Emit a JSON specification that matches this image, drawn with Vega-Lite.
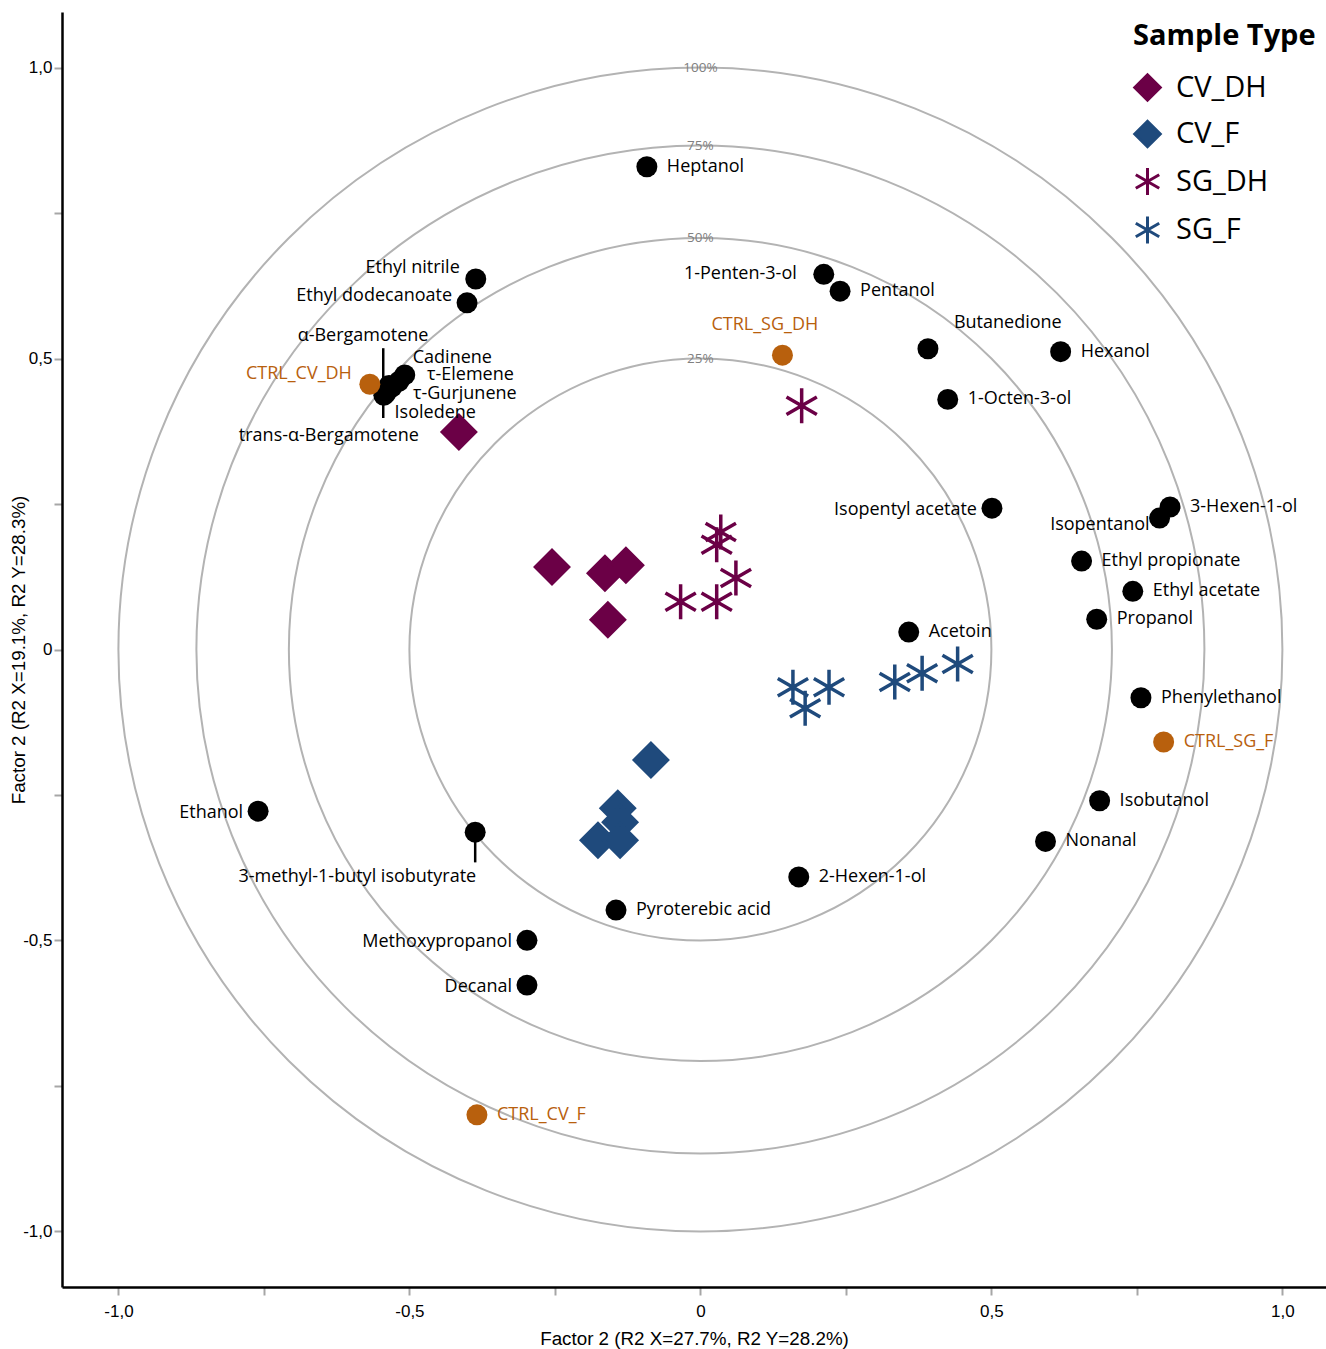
{
  "$schema": "https://vega.github.io/schema/vega-lite/v6.json",
  "width": 1264,
  "height": 1275,
  "autosize": "none",
  "padding": {"left": 62, "top": 12, "right": 0, "bottom": 62},
  "background": "white",
  "config": {
    "view": {"stroke": null},
    "font": "Open Sans",
    "axis": {
      "grid": false,
      "domainColor": "black",
      "domainWidth": 2.5,
      "tickColor": "#a6a6a6",
      "tickWidth": 2,
      "tickSize": 8,
      "labelFont": "Liberation Sans",
      "labelFontSize": 17,
      "labelColor": "black",
      "labelFlush": false,
      "labelOverlap": false,
      "titleFont": "Liberation Sans",
      "titleFontSize": 18.8,
      "titleFontWeight": "normal",
      "titleColor": "black"
    },
    "legend": {
      "orient": "top-right",
      "offset": 10,
      "padding": 0,
      "titleFont": "Open Sans",
      "titleFontSize": 29,
      "titleFontWeight": "bold",
      "titleColor": "black",
      "titleLimit": 500,
      "titlePadding": 22,
      "labelFont": "Open Sans",
      "labelFontSize": 29,
      "labelColor": "black",
      "labelOffset": 14,
      "labelLimit": 300,
      "symbolSize": 650,
      "symbolStrokeWidth": 3,
      "rowPadding": 7.5
    }
  },
  "datasets": {
    "rings": [
      {"label": "25%", "radius": 0.5},
      {"label": "50%", "radius": 0.7071},
      {"label": "75%", "radius": 0.866},
      {"label": "100%", "radius": 1.0}
    ],
    "leaders": [
      {"x": -0.545, "y": 0.518, "y2": 0.398},
      {"x": -0.387, "y": -0.314, "y2": -0.366}
    ],
    "loadings": [
      {"name": "Heptanol", "group": "compound", "x": -0.092, "y": 0.830},
      {"name": "Ethyl nitrile", "group": "compound", "x": -0.386, "y": 0.637},
      {"name": "Ethyl dodecanoate", "group": "compound", "x": -0.401, "y": 0.596},
      {"name": "Cadinene", "group": "compound", "x": -0.508, "y": 0.472},
      {"name": "τ-Elemene", "group": "compound", "x": -0.518, "y": 0.461},
      {"name": "τ-Gurjunene", "group": "compound", "x": -0.530, "y": 0.451},
      {"name": "Isoledene", "group": "compound", "x": -0.541, "y": 0.440},
      {"name": "α-Bergamotene", "group": "compound", "x": -0.535, "y": 0.454},
      {"name": "trans-α-Bergamotene", "group": "compound", "x": -0.544, "y": 0.437},
      {"name": "1-Penten-3-ol", "group": "compound", "x": 0.212, "y": 0.645},
      {"name": "Pentanol", "group": "compound", "x": 0.240, "y": 0.616},
      {"name": "Butanedione", "group": "compound", "x": 0.391, "y": 0.517},
      {"name": "Hexanol", "group": "compound", "x": 0.619, "y": 0.512},
      {"name": "1-Octen-3-ol", "group": "compound", "x": 0.425, "y": 0.430},
      {"name": "Isopentyl acetate", "group": "compound", "x": 0.501, "y": 0.243},
      {"name": "3-Hexen-1-ol", "group": "compound", "x": 0.807, "y": 0.245},
      {"name": "Isopentanol", "group": "compound", "x": 0.789, "y": 0.226},
      {"name": "Ethyl propionate", "group": "compound", "x": 0.655, "y": 0.152},
      {"name": "Ethyl acetate", "group": "compound", "x": 0.743, "y": 0.100},
      {"name": "Propanol", "group": "compound", "x": 0.681, "y": 0.052},
      {"name": "Acetoin", "group": "compound", "x": 0.358, "y": 0.030},
      {"name": "Phenylethanol", "group": "compound", "x": 0.757, "y": -0.083},
      {"name": "Isobutanol", "group": "compound", "x": 0.686, "y": -0.260},
      {"name": "Nonanal", "group": "compound", "x": 0.593, "y": -0.330},
      {"name": "2-Hexen-1-ol", "group": "compound", "x": 0.169, "y": -0.391},
      {"name": "Pyroterebic acid", "group": "compound", "x": -0.145, "y": -0.448},
      {"name": "Ethanol", "group": "compound", "x": -0.760, "y": -0.278},
      {"name": "3-methyl-1-butyl isobutyrate", "group": "compound", "x": -0.387, "y": -0.314},
      {"name": "Methoxypropanol", "group": "compound", "x": -0.298, "y": -0.500},
      {"name": "Decanal", "group": "compound", "x": -0.298, "y": -0.577},
      {"name": "CTRL_CV_DH", "group": "control", "x": -0.568, "y": 0.456},
      {"name": "CTRL_SG_DH", "group": "control", "x": 0.141, "y": 0.506},
      {"name": "CTRL_SG_F", "group": "control", "x": 0.796, "y": -0.159},
      {"name": "CTRL_CV_F", "group": "control", "x": -0.384, "y": -0.800}
    ],
    "samples": [
      {"type": "CV_DH", "x": -0.415, "y": 0.374},
      {"type": "CV_DH", "x": -0.255, "y": 0.142},
      {"type": "CV_DH", "x": -0.164, "y": 0.131},
      {"type": "CV_DH", "x": -0.128, "y": 0.145},
      {"type": "CV_DH", "x": -0.159, "y": 0.051},
      {"type": "CV_F", "x": -0.085, "y": -0.190},
      {"type": "CV_F", "x": -0.142, "y": -0.273},
      {"type": "CV_F", "x": -0.138, "y": -0.297},
      {"type": "CV_F", "x": -0.176, "y": -0.328},
      {"type": "CV_F", "x": -0.138, "y": -0.328},
      {"type": "SG_DH", "x": 0.035, "y": 0.202},
      {"type": "SG_DH", "x": 0.028, "y": 0.180},
      {"type": "SG_DH", "x": 0.061, "y": 0.123},
      {"type": "SG_DH", "x": -0.034, "y": 0.082},
      {"type": "SG_DH", "x": 0.028, "y": 0.082},
      {"type": "SG_DH", "x": 0.174, "y": 0.419},
      {"type": "SG_F", "x": 0.159, "y": -0.065},
      {"type": "SG_F", "x": 0.221, "y": -0.065},
      {"type": "SG_F", "x": 0.180, "y": -0.101},
      {"type": "SG_F", "x": 0.334, "y": -0.056},
      {"type": "SG_F", "x": 0.381, "y": -0.041},
      {"type": "SG_F", "x": 0.442, "y": -0.025}
    ]
  },
  "layer": [
    {
      "description": "Explained-variance circles (radius = sqrt of the share)",
      "data": {"name": "rings"},
      "mark": {"type": "arc", "filled": false, "stroke": "#b3b3b3", "strokeWidth": 2, "theta": 0, "theta2": {"expr": "2*PI"}},
      "encoding": {
        "x": {
          "datum": 0, "type": "quantitative",
          "scale": {"domain": [-1.097, 1.075], "nice": false, "zero": false},
          "axis": {
            "values": [-1, -0.75, -0.5, -0.25, 0, 0.25, 0.5, 0.75, 1],
            "labelExpr": "abs(datum.value * 2 - round(datum.value * 2)) < 0.001 ? (datum.value == 0 ? '0' : replace(replace(format(datum.value, '.1f'), '.', ','), '\u2212', '-')) : ''",
            "labelPadding": 8,
            "title": "Factor 2 (R2 X=27.7%, R2 Y=28.2%)",
            "titleY": 51,
            "titleBaseline": "middle"
          }
        },
        "y": {
          "datum": 0, "type": "quantitative",
          "scale": {"domain": [-1.096, 1.096], "nice": false, "zero": false},
          "axis": {
            "values": [-1, -0.75, -0.5, -0.25, 0, 0.25, 0.5, 0.75, 1],
            "labelExpr": "abs(datum.value * 2 - round(datum.value * 2)) < 0.001 ? (datum.value == 0 ? '0' : replace(replace(format(datum.value, '.1f'), '.', ','), '\u2212', '-')) : ''",
            "labelPadding": 2,
            "title": "Factor 2 (R2 X=19.1%, R2 Y=28.3%)",
            "titleX": -44,
            "titleBaseline": "middle"
          }
        },
        "radius": {"field": "radius", "type": "quantitative", "stack": null, "scale": {"type": "linear", "domain": [0, 1], "range": [0, 582], "zero": true}}
      }
    },
    {
      "data": {"name": "rings"},
      "mark": {"type": "text", "font": "Open Sans", "fontSize": 13.5, "color": "#808080", "baseline": "middle", "align": "center"},
      "encoding": {
        "x": {"datum": 0, "type": "quantitative"},
        "y": {"field": "radius", "type": "quantitative"},
        "text": {"field": "label"}
      }
    },
    {
      "description": "Dashed zero reference lines",
      "mark": {"type": "rule", "color": "#d0263b", "strokeWidth": 2, "strokeDash": [7, 5]},
      "encoding": {"x": {"datum": 0, "type": "quantitative"}}
    },
    {
      "mark": {"type": "rule", "color": "#d0263b", "strokeWidth": 2, "strokeDash": [7, 5]},
      "encoding": {"y": {"datum": 0, "type": "quantitative"}}
    },
    {
      "description": "Top frame line",
      "mark": {"type": "rule", "color": "black", "strokeWidth": 2.5},
      "encoding": {"y": {"datum": 1.096, "type": "quantitative"}}
    },
    {
      "description": "Leader lines for crowded labels",
      "data": {"name": "leaders"},
      "mark": {"type": "rule", "color": "black", "strokeWidth": 2.5},
      "encoding": {
        "x": {"field": "x", "type": "quantitative"},
        "y": {"field": "y", "type": "quantitative"},
        "y2": {"field": "y2"}
      }
    },
    {
      "description": "Variable loadings (black) and control samples (orange)",
      "data": {"name": "loadings"},
      "mark": {"type": "circle", "size": 440, "opacity": 1},
      "encoding": {
        "x": {"field": "x", "type": "quantitative"},
        "y": {"field": "y", "type": "quantitative"},
        "color": {"field": "group", "type": "nominal", "scale": {"domain": ["compound", "control"], "range": ["black", "#b8600d"]}, "legend": null}
      }
    },
    {
      "description": "Sample scores",
      "data": {"name": "samples"},
      "mark": {"type": "point", "filled": true, "size": 1089, "strokeWidth": 3.5, "opacity": 1},
      "encoding": {
        "x": {"field": "x", "type": "quantitative"},
        "y": {"field": "y", "type": "quantitative"},
        "fill": {"field": "type", "type": "nominal", "title": "Sample Type",
          "scale": {"domain": ["CV_DH", "CV_F", "SG_DH", "SG_F"], "range": ["#6b0046", "#1f4a7c", "#6b0046", "#1f4a7c"]}},
        "stroke": {"field": "type", "type": "nominal", "title": "Sample Type",
          "scale": {"domain": ["CV_DH", "CV_F", "SG_DH", "SG_F"], "range": ["#6b0046", "#1f4a7c", "#6b0046", "#1f4a7c"]}},
        "shape": {"field": "type", "type": "nominal", "title": "Sample Type",
          "scale": {"domain": ["CV_DH", "CV_F", "SG_DH", "SG_F"], "range": ["diamond", "diamond", "M0,-1.06L0,1.06M-0.92,-0.53L0.92,0.53M-0.92,0.53L0.92,-0.53", "M0,-1.06L0,1.06M-0.92,-0.53L0.92,0.53M-0.92,0.53L0.92,-0.53"]}}
      }
    },
    {
      "description": "Labels to the right of their points",
      "data": {"name": "loadings"},
      "transform": [{"filter": {"field": "name", "oneOf": ["Heptanol", "Pentanol", "Hexanol", "1-Octen-3-ol", "3-Hexen-1-ol", "Ethyl propionate", "Ethyl acetate", "Propanol", "Acetoin", "Phenylethanol", "CTRL_SG_F", "Isobutanol", "Nonanal", "2-Hexen-1-ol", "Pyroterebic acid", "CTRL_CV_F"]}}],
      "mark": {"type": "text", "align": "left", "baseline": "middle", "dx": 20, "fontSize": 18},
      "encoding": {
        "x": {"field": "x", "type": "quantitative"},
        "y": {"field": "y", "type": "quantitative"},
        "text": {"field": "name"},
        "color": {"field": "group", "type": "nominal", "legend": null}
      }
    },
    {
      "description": "Labels to the left of their points",
      "data": {"name": "loadings"},
      "transform": [{"filter": {"field": "name", "oneOf": ["Isopentyl acetate", "Ethanol", "Methoxypropanol", "Decanal"]}}],
      "mark": {"type": "text", "align": "right", "baseline": "middle", "dx": -15, "dy": 2, "fontSize": 18},
      "encoding": {
        "x": {"field": "x", "type": "quantitative"},
        "y": {"field": "y", "type": "quantitative"},
        "text": {"field": "name"},
        "color": {"field": "group", "type": "nominal", "legend": null}
      }
    },
    {
      "data": {"name": "loadings"},
      "transform": [{"filter": {"field": "name", "equal": "Ethyl nitrile"}}],
      "mark": {"type": "text", "align": "right", "baseline": "middle", "dx": -16, "dy": -11, "fontSize": 18},
      "encoding": {"x": {"field": "x", "type": "quantitative"}, "y": {"field": "y", "type": "quantitative"}, "text": {"field": "name"}, "color": {"field": "group", "type": "nominal", "legend": null}}
    },
    {
      "data": {"name": "loadings"},
      "transform": [{"filter": {"field": "name", "equal": "Ethyl dodecanoate"}}],
      "mark": {"type": "text", "align": "right", "baseline": "middle", "dx": -15, "dy": -7, "fontSize": 18},
      "encoding": {"x": {"field": "x", "type": "quantitative"}, "y": {"field": "y", "type": "quantitative"}, "text": {"field": "name"}, "color": {"field": "group", "type": "nominal", "legend": null}}
    },
    {
      "data": {"name": "loadings"},
      "transform": [{"filter": {"field": "name", "equal": "1-Penten-3-ol"}}],
      "mark": {"type": "text", "align": "right", "baseline": "middle", "dx": -27, "fontSize": 18},
      "encoding": {"x": {"field": "x", "type": "quantitative"}, "y": {"field": "y", "type": "quantitative"}, "text": {"field": "name"}, "color": {"field": "group", "type": "nominal", "legend": null}}
    },
    {
      "data": {"name": "loadings"},
      "transform": [{"filter": {"field": "name", "equal": "Isopentanol"}}],
      "mark": {"type": "text", "align": "right", "baseline": "middle", "dx": -10, "dy": 7, "fontSize": 18},
      "encoding": {"x": {"field": "x", "type": "quantitative"}, "y": {"field": "y", "type": "quantitative"}, "text": {"field": "name"}, "color": {"field": "group", "type": "nominal", "legend": null}}
    },
    {
      "data": {"name": "loadings"},
      "transform": [{"filter": {"field": "name", "equal": "CTRL_CV_DH"}}],
      "mark": {"type": "text", "align": "right", "baseline": "middle", "dx": -18, "dy": -10, "fontSize": 18},
      "encoding": {"x": {"field": "x", "type": "quantitative"}, "y": {"field": "y", "type": "quantitative"}, "text": {"field": "name"}, "color": {"field": "group", "type": "nominal", "legend": null}}
    },
    {
      "data": {"name": "loadings"},
      "transform": [{"filter": {"field": "name", "equal": "Butanedione"}}],
      "mark": {"type": "text", "align": "left", "baseline": "middle", "dx": 26, "dy": -26, "fontSize": 18},
      "encoding": {"x": {"field": "x", "type": "quantitative"}, "y": {"field": "y", "type": "quantitative"}, "text": {"field": "name"}, "color": {"field": "group", "type": "nominal", "legend": null}}
    },
    {
      "data": {"name": "loadings"},
      "transform": [{"filter": {"field": "name", "equal": "CTRL_SG_DH"}}],
      "mark": {"type": "text", "align": "left", "baseline": "middle", "dx": -71, "dy": -30, "fontSize": 18},
      "encoding": {"x": {"field": "x", "type": "quantitative"}, "y": {"field": "y", "type": "quantitative"}, "text": {"field": "name"}, "color": {"field": "group", "type": "nominal", "legend": null}}
    },
    {
      "data": {"name": "loadings"},
      "transform": [{"filter": {"field": "name", "equal": "Cadinene"}}],
      "mark": {"type": "text", "align": "left", "baseline": "middle", "dx": 8, "dy": -17, "fontSize": 18},
      "encoding": {"x": {"field": "x", "type": "quantitative"}, "y": {"field": "y", "type": "quantitative"}, "text": {"field": "name"}, "color": {"field": "group", "type": "nominal", "legend": null}}
    },
    {
      "data": {"name": "loadings"},
      "transform": [{"filter": {"field": "name", "equal": "τ-Elemene"}}],
      "mark": {"type": "text", "align": "left", "baseline": "middle", "dx": 28, "dy": -6, "fontSize": 18},
      "encoding": {"x": {"field": "x", "type": "quantitative"}, "y": {"field": "y", "type": "quantitative"}, "text": {"field": "name"}, "color": {"field": "group", "type": "nominal", "legend": null}}
    },
    {
      "data": {"name": "loadings"},
      "transform": [{"filter": {"field": "name", "equal": "τ-Gurjunene"}}],
      "mark": {"type": "text", "align": "left", "baseline": "middle", "dx": 21, "dy": 7, "fontSize": 18},
      "encoding": {"x": {"field": "x", "type": "quantitative"}, "y": {"field": "y", "type": "quantitative"}, "text": {"field": "name"}, "color": {"field": "group", "type": "nominal", "legend": null}}
    },
    {
      "data": {"name": "loadings"},
      "transform": [{"filter": {"field": "name", "equal": "Isoledene"}}],
      "mark": {"type": "text", "align": "left", "baseline": "middle", "dx": 9, "dy": 19, "fontSize": 18},
      "encoding": {"x": {"field": "x", "type": "quantitative"}, "y": {"field": "y", "type": "quantitative"}, "text": {"field": "name"}, "color": {"field": "group", "type": "nominal", "legend": null}}
    },
    {
      "data": {"name": "loadings"},
      "transform": [{"filter": {"field": "name", "equal": "α-Bergamotene"}}],
      "mark": {"type": "text", "align": "center", "baseline": "middle", "dx": -26, "dy": -49, "fontSize": 18},
      "encoding": {"x": {"field": "x", "type": "quantitative"}, "y": {"field": "y", "type": "quantitative"}, "text": {"field": "name"}, "color": {"field": "group", "type": "nominal", "legend": null}}
    },
    {
      "data": {"name": "loadings"},
      "transform": [{"filter": {"field": "name", "equal": "trans-α-Bergamotene"}}],
      "mark": {"type": "text", "align": "right", "baseline": "middle", "dx": 35, "dy": 41, "fontSize": 18},
      "encoding": {"x": {"field": "x", "type": "quantitative"}, "y": {"field": "y", "type": "quantitative"}, "text": {"field": "name"}, "color": {"field": "group", "type": "nominal", "legend": null}}
    },
    {
      "data": {"name": "loadings"},
      "transform": [{"filter": {"field": "name", "equal": "3-methyl-1-butyl isobutyrate"}}],
      "mark": {"type": "text", "align": "right", "baseline": "middle", "dx": 1, "dy": 45, "fontSize": 18},
      "encoding": {"x": {"field": "x", "type": "quantitative"}, "y": {"field": "y", "type": "quantitative"}, "text": {"field": "name"}, "color": {"field": "group", "type": "nominal", "legend": null}}
    }
  ]
}
